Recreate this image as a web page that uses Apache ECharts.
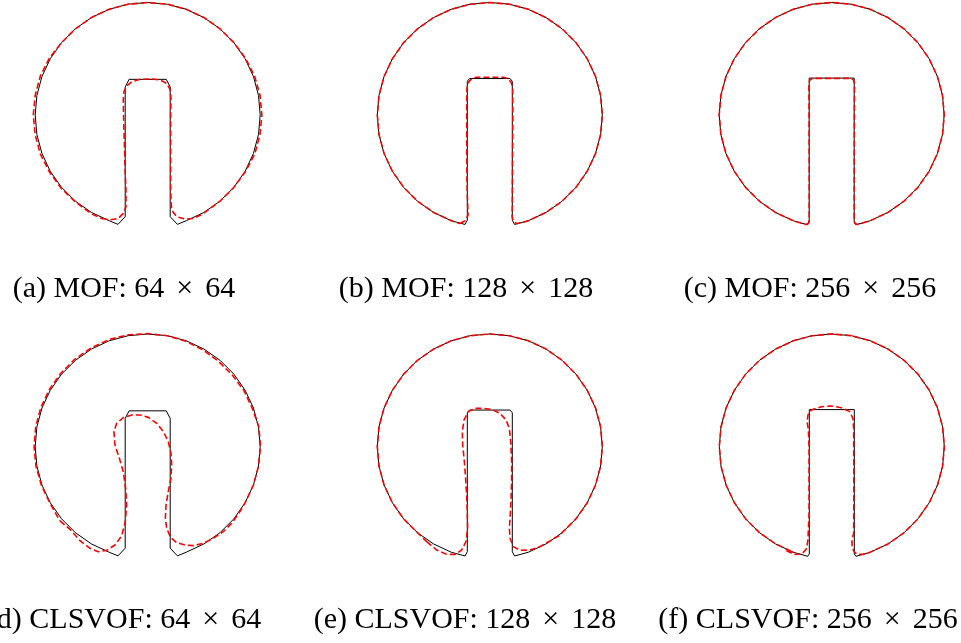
<!DOCTYPE html>
<html>
<head>
<meta charset="utf-8">
<script src="https://cdn.jsdelivr.net/npm/echarts@6/dist/echarts.min.js"></script>
<style>html,body{margin:0;padding:0;background:#fff;}#chart{width:961px;height:643px;}</style>
</head>
<body>
<div id="chart"></div>
<script>
// ---- data (units: disk radius = 100, origin at disk centre) ----
const captions = ['(a) MOF: 64 × 64', '(b) MOF: 128 × 128', '(c) MOF: 256 × 256',
                  '(d) CLSVOF: 64 × 64', '(e) CLSVOF: 128 × 128', '(f) CLSVOF: 256 × 256'];

// circular part of the exact disk, read counter-clockwise from lower right to lower left
const circleArc = [
  [34.2,-94.0],[50.0,-86.6],[64.3,-76.6],[76.6,-64.3],[86.6,-50.0],[94.0,-34.2],[98.5,-17.4],[100,0],
  [98.5,17.4],[94.0,34.2],[86.6,50.0],[76.6,64.3],[64.3,76.6],[50.0,86.6],[34.2,94.0],[17.4,98.5],[0,100],
  [-17.4,98.5],[-34.2,94.0],[-50.0,86.6],[-64.3,76.6],[-76.6,64.3],[-86.6,50.0],[-94.0,34.2],[-98.5,17.4],[-100,0],
  [-98.5,-17.4],[-94.0,-34.2],[-86.6,-50.0],[-76.6,-64.3],[-64.3,-76.6],[-50.0,-86.6],[-34.2,-94.0]
];
// slot of the exact solution at each grid
const exactSlot64 = [[-26.4,-97.2],[-20,-90.4],[-20,25],[-16.5,31.7],[16.5,31.7],[20,25],[20,-90.4],[26.4,-97.2]];
const exactSlot128 = [[-22,-97.3],[-20,-93.5],[-20,30],[-18,32.4],[18,32.4],[20,30],[20,-93.5],[22,-97.3]];
const exactSlot256 = [[-21.5,-97.6],[-20,-95.5],[-20,32.8],[20,32.8],[20,-95.5],[21.5,-97.6]];

// computed interfaces (red dashed)
const mof64Slot = [[-40.9,-92.0],[-33.5,-93.2],[-26.1,-91.9],[-21.7,-87.4],[-19.3,-81.5],[-19.3,-66.7],[-20.2,-45.9],
  [-20.8,-22.2],[-21.4,-4.4],[-21.7,13.3],[-21.1,20.7],[-18.7,25.8],[-14.2,29.6],[-6.8,31.7],[3.5,32.0],[10.9,31.1],
  [16.9,28.1],[19.8,22.8],[20.7,14.8],[20.4,-1.5],[20.4,-22.2],[20.4,-45.9],[20.4,-63.7],[20.7,-75.6],[21.3,-84.4],
  [25.7,-90.4],[33.2,-92.5],[40.6,-92.0],[48.0,-88.5]];
const mof64Arc = [[64.3,-76.6],[76.6,-64.3],[87.0,-50.2],[95.2,-34.6],[99.8,-17.6],[101.5,0],[99.8,17.6],[95.0,34.6],
  [87.0,50.2],[76.6,64.3],[64.3,76.6],[50.0,86.6],[34.2,94.0],[17.4,98.5],[0,100],[-17.4,98.5],[-34.2,94.0],
  [-50.0,86.6],[-64.3,76.6],[-76.6,64.3],[-87.4,50.5],[-95.4,34.7],[-100.0,17.6],[-101.7,0],[-100.0,-17.6],
  [-95.4,-34.7],[-87.4,-50.5],[-77.2,-64.8],[-64.6,-77.0],[-49.8,-88.0]];

const mof128Slot = [[-26.5,-96.5],[-22,-94],[-19.3,-89],[-19.6,-82],[-20.3,-60],[-20.5,-20],[-20.5,10],[-20.3,24],
  [-19,29],[-16,32.5],[-12,33.5],[12,33.5],[16,32.5],[19,29],[20.3,24],[20.5,0],[20.2,-40],[20,-80],[19.8,-90],
  [21,-95],[24.5,-96.5],[29.8,-95.3]];

const mof256Slot = [[-23,-97.4],[-20.8,-96.5],[-20,-93],[-20,-40],[-20.2,20],[-20.3,28],[-19.5,31],[-17,32.6],
  [17,32.6],[19.5,31],[20.3,28],[20,-40],[20,-93],[20.8,-96.5],[23,-97.4]];

const cls64Slot = [[-78.0,-66.2],[-69.1,-73.6],[-60.2,-83.7],[-51.3,-90.5],[-43.9,-93.5],[-36.5,-92.3],[-29.1,-87.6],
  [-23.1,-79.3],[-19.9,-66.8],[-18.7,-52.0],[-19.6,-37.2],[-21.7,-22.4],[-25.2,-10.5],[-29.1,1.3],[-30.0,13.2],
  [-27.6,20.6],[-21.7,25.6],[-14.2,28.0],[-6.8,28.0],[0.6,25.9],[8.0,20.6],[13.9,13.2],[18.3,4.3],[20.7,-6.1],
  [21.3,-16.4],[20.7,-28.3],[18.3,-40.1],[16.3,-52.0],[15.7,-63.9],[16.9,-72.7],[20.4,-81.0],[25.8,-85.5],
  [33.2,-87.6],[40.6,-88.1],[49.4,-86.1],[58.3,-81.6],[67.2,-75.7],[74.6,-68.3],[82.0,-57.9]];
const cls64Arc = [[86.6,-50.0],[94.0,-34.2],[98.5,-17.4],[100.3,0],[98.8,17.4],[93.0,33.9],[85.7,49.5],[75.4,63.3],
  [63.3,75.4],[49.5,85.7],[34.0,93.5],[17.4,98.5],[0,100.3],[-17.5,99.3],[-34.6,95.0],[-50.5,87.5],[-65.0,77.4],
  [-77.4,64.9],[-87.5,50.5],[-95.0,34.6],[-99.5,17.5],[-101,0],[-99.3,-17.5],[-94.5,-34.4],[-87.0,-50.2]];

const cls128Slot = [[-56.1,-84.6],[-47.2,-92.0],[-38.3,-95.9],[-30.9,-95.9],[-25.0,-92.0],[-21.2,-84.6],[-19.7,-72.7],
  [-20.0,-57.9],[-20.6,-43.1],[-21.5,-28.3],[-22.6,-13.5],[-24.1,1.3],[-24.4,13.2],[-22.9,23.6],[-19.1,31.0],
  [-13.2,33.9],[-5.8,33.9],[1.7,33.0],[9.1,29.5],[14.4,23.6],[17.4,16.1],[18.6,4.3],[19.4,-13.5],[19.4,-31.2],
  [18.8,-49.0],[18.0,-63.9],[17.4,-72.7],[18.0,-81.6],[20.9,-89.0],[26.8,-92.3],[35.7,-92.0],[44.6,-89.0],
  [53.5,-84.0],[62.4,-78.7]];

const cls256Slot = [[-40.4,-92.5],[-33.6,-96.0],[-26.5,-95.5],[-22.6,-91.1],[-21.2,-83.1],[-20.2,-60],[-20.2,0],
  [-20.8,15],[-22.0,22.1],[-21.2,28.0],[-18.2,32.4],[-9.3,35.4],[-0.4,36.0],[8.5,34.5],[15.9,31.0],[18.8,25.0],
  [19.4,16.1],[19.6,-40],[19.4,-77.2],[18.0,-83.1],[18.0,-89.0],[19.7,-93.5],[22.7,-95.9],[27.7,-95.9],[33.7,-94.1]];

// ---- assemble closed outlines ----
const exact64 = exactSlot64.concat(circleArc, [exactSlot64[0]]);
const exact128 = exactSlot128.concat(circleArc, [exactSlot128[0]]);
const exact256 = exactSlot256.concat(circleArc, [exactSlot256[0]]);
const redMOF64 = mof64Slot.concat(mof64Arc, [mof64Slot[0]]);
const redMOF128 = mof128Slot.concat(circleArc, [mof128Slot[0]]);
const redMOF256 = mof256Slot.concat(circleArc, [mof256Slot[0]]);
const redCLS64 = cls64Slot.concat(cls64Arc, [cls64Slot[0]]);
const redCLS128 = cls128Slot.concat(circleArc.slice(2, 31), [cls128Slot[0]]);
const redCLS256 = cls256Slot.concat(circleArc.slice(1, 33), [cls256Slot[0]]);

const exactShapes = [exact64, exact128, exact256, exact64, exact128, exact256];
const computedShapes = [redMOF64, redMOF128, redMOF256, redCLS64, redCLS128, redCLS256];

// ---- layout ----
const centers = [[147.7,115],[489.8,115],[831.7,115],[147.7,446.5],[489.8,446.5],[831.8,446.5]];
const labelPos = [[124,289],[466,289],[810,289],[124,620],[465,620],[808,620]];
const PX = 1.125;            // pixels per data unit
const X_MIN = -110, X_MAX = 110, Y_MIN = -110, Y_MAX = 102;

const grids = [], xAxes = [], yAxes = [], series = [];
centers.forEach((c, i) => {
  grids.push({
    left: c[0] + X_MIN * PX, top: c[1] - Y_MAX * PX,
    width: (X_MAX - X_MIN) * PX, height: (Y_MAX - Y_MIN) * PX,
    containLabel: false, outerBoundsMode: 'none'
  });
  xAxes.push({type: 'value', gridIndex: i, min: X_MIN, max: X_MAX, show: false});
  yAxes.push({type: 'value', gridIndex: i, min: Y_MIN, max: Y_MAX, show: false});
  series.push({type: 'line', xAxisIndex: i, yAxisIndex: i, data: exactShapes[i], showSymbol: false,
    symbol: 'none', silent: true, lineStyle: {color: '#000', width: 1}, z: 2});
  series.push({type: 'line', xAxisIndex: i, yAxisIndex: i, data: computedShapes[i], showSymbol: false,
    symbol: 'none', silent: true, lineStyle: {color: '#ff0000', width: 1.6, type: [6, 3]}, z: 3});
});

const graphics = captions.map((t, i) => {
  const parts = t.split(' × ');
  return {
    type: 'text', x: labelPos[i][0], y: labelPos[i][1], silent: true,
    style: {
      text: '{t|' + parts[0] + '}{m|×}{t|' + parts[1] + '}',
      align: 'center', verticalAlign: 'middle', fill: '#000',
      rich: {
        t: {fontFamily: 'Liberation Serif', fontSize: 30, fill: '#000'},
        m: {fontFamily: 'Liberation Serif', fontSize: 30, fill: '#000', padding: [0, 12, 0, 12]}
      }
    }
  };
});

const chart = echarts.init(document.getElementById('chart'), null, {renderer: 'canvas'});
chart.setOption({
  animation: false,
  backgroundColor: '#fff',
  grid: grids, xAxis: xAxes, yAxis: yAxes, series: series,
  graphic: graphics
});
</script>
</body>
</html>
